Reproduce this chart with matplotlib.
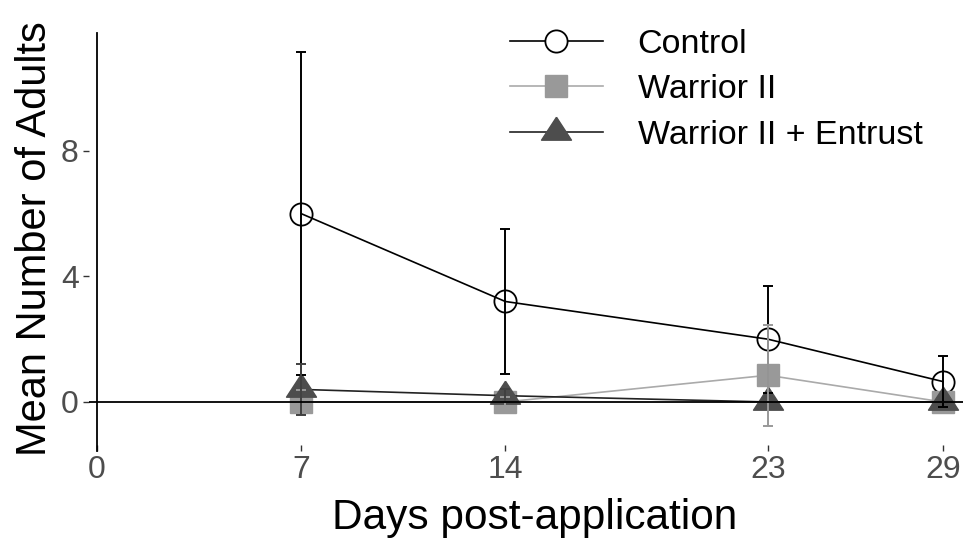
import matplotlib
matplotlib.use("Agg")
import matplotlib.pyplot as plt
from matplotlib.lines import Line2D

plt.rcParams['font.family'] = ['Liberation Sans', 'DejaVu Sans']

days = [7, 14, 23, 29]
day_ticks = [0, 7, 14, 23, 29]
y_ticks = [0, 4, 8]

control_mean = [6.0, 3.2, 2.0, 0.65]
control_err = [5.15, 2.3, 1.7, 0.8]
warrior_mean = [0.0, 0.0, 0.85, 0.0]
warrior_err = [0.38, 0.15, 1.6, 0.0]
entrust_mean = [0.4, 0.2, 0.0, 0.0]
entrust_err = [0.8, 0.2, 0.0, 0.0]

# wide triangle centred on its centroid
tri = [(0, 15.3), (-15, -7.7), (15, -7.7), (0, 15.3)]

fig = plt.figure(figsize=(9.63, 5.41), dpi=100)
ax = fig.add_axes([0.0924, 0.1775, 0.9076, 0.762])

series = [
    (control_mean, control_err, 'Control', dict(marker='o', ms=16, mfc='none', mec='black', mew=1.3,
                                               color='black'), 'black'),
    (warrior_mean, warrior_err, 'Warrior II', dict(marker='s', ms=16.5, mfc='#999999', mec='#999999',
                                                   color='#aaaaaa'), '#999999'),
    (entrust_mean, entrust_err, 'Warrior II + Entrust', dict(marker=tri, ms=22, mfc='#4d4d4d', mec='#4d4d4d',
                                                             color='#222222'), '#404040'),
]

handles = []
for mean, err, name, style, ecol in series:
    ax.plot(days, mean, lw=1.2, zorder=2, clip_on=False, **style)
    ax.errorbar(days, mean, yerr=err, fmt='none', ecolor=ecol, elinewidth=1.4,
                capsize=3.3, capthick=1.4, zorder=3, clip_on=False)
    hs = dict(style)
    if name == 'Control':
        hs['mfc'] = 'white'
    handles.append(Line2D([], [], lw=1.2, label=name, **hs))

ax.axhline(0, color='black', lw=1.3, zorder=4)
ax.axvline(0, ymin=-0.015, ymax=1, color='black', lw=1.3, zorder=4, clip_on=False)

ax.set_xlim(-0.27, 29.69)
ax.set_ylim(-1.37, 11.76)
ax.set_xticks(day_ticks)
ax.set_yticks(y_ticks)
for s in ax.spines.values():
    s.set_visible(False)
ax.tick_params(direction='out', length=4.3, width=1, color='#333333',
               labelsize=23, labelcolor='#4d4d4d', pad=3)

ax.set_xlabel('Days post-application', fontsize=30.5)
ax.xaxis.set_label_coords(0.51, -0.128)
ax.set_ylabel('Mean Number of Adults', fontsize=30, labelpad=4)

fig.legend(handles=handles, loc='upper left', bbox_to_anchor=(510 / 963, 1 - 29 / 541),
           frameon=False, fontsize=24.5, handlelength=2.72, handletextpad=1.03,
           labelspacing=0.42, borderpad=0, borderaxespad=0)

fig.savefig('out.png', dpi=100)
